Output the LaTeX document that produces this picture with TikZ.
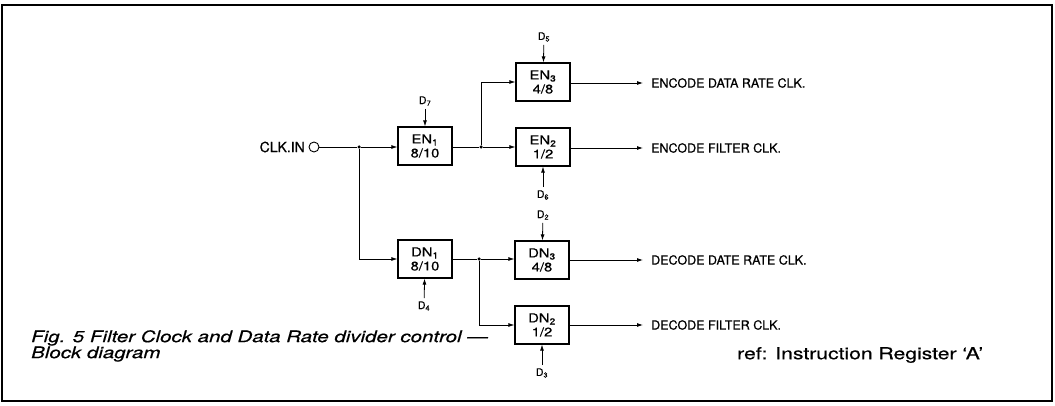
\documentclass[tikz,border=0pt]{standalone}
\usepackage{fontspec}
\setmainfont[FakeBold=0.6]{TeX Gyre Heros}
\newfontfamily\capfont[FakeStretch=1.28,FakeBold=0.5]{TeX Gyre Heros}
\newfontfamily\boxfont[FakeStretch=1.18,FakeBold=0.6]{TeX Gyre Heros}
\usetikzlibrary{arrows.meta}
\begin{document}
\begin{tikzpicture}[x=1pt,y=-1pt,
  box/.style={draw, line width=1.2pt, minimum width=54pt, minimum height=38pt, inner sep=0pt, align=center, font=\boxfont\fontsize{12.5}{14}\selectfont},
  wire/.style={line width=0.8pt},
  arr/.style={wire, -{Latex[length=6pt,width=4pt]}},
  dlab/.style={font=\fontsize{10.5}{12}\selectfont, inner sep=3pt},
  outlab/.style={anchor=west, inner xsep=8pt, inner ysep=0pt, font=\fontsize{12.5}{14}\selectfont},
  jdot/.style={circle, fill, inner sep=0pt, minimum size=3.5pt}
]
\useasboundingbox (0,0) rectangle (1055,406);
\draw[line width=2pt] (2,5) rectangle (1052,401);

% input
\node[anchor=east, inner sep=0pt, font=\fontsize{14}{16}\selectfont] (clk) at (305,147) {CLK.IN};
\node[draw, circle, minimum size=10pt, inner sep=0pt, line width=0.9pt] (inc) at (314,147) {};
\node[jdot] (j1) at (359,147) {};

% first stage
\node[box] (en1) at (425,146) {EN\textsubscript{1}\\8/10};
\node[box] (dn1) at (425,259) {DN\textsubscript{1}\\8/10};
\node[dlab] (d7) at (425,101) {D\textsubscript{7}};
\node[dlab] (d4) at (424,306) {D\textsubscript{4}};

% second stage encode
\node[jdot] (j2) at (481,147) {};
\node[box] (en3) at (543,82) {EN\textsubscript{3}\\4/8};
\node[box] (en2) at (543,147) {EN\textsubscript{2}\\1/2};
\node[dlab] (d5) at (544,37) {D\textsubscript{5}};
\node[dlab] (d6) at (543,195) {D\textsubscript{6}};

% second stage decode
\node[jdot] (j3) at (479,259) {};
\node[box] (dn3) at (542,260) {DN\textsubscript{3}\\4/8};
\node[box] (dn2) at (542,325) {DN\textsubscript{2}\\1/2};
\node[dlab] (d2) at (543,215) {D\textsubscript{2}};
\node[dlab] (d3) at (542,373) {D\textsubscript{3}};

% outputs
\node[outlab] (o1) at (643,83) {ENCODE DATA RATE CLK.};
\node[outlab] (o2) at (643,148) {ENCODE FILTER CLK.};
\node[outlab] (o3) at (643,260) {DECODE DATE RATE CLK.};
\node[outlab] (o4) at (643,325) {DECODE FILTER CLK.};

% connections
\draw[wire] (inc) -- (j1);
\draw[arr] (j1) -- (j1 -| en1.west);
\draw[arr] (j1) |- (dn1.west);
\draw[arr] (d7) -- (en1);
\draw[arr] (d4) -- (dn1);

\draw[wire] (en1.east |- j2) -- (j2);
\draw[arr] (j2) -- (j2 -| en2.west);
\draw[arr] (j2) |- (en3.west);
\draw[arr] (d5) -- (en3);
\draw[arr] (d6) -- (en2);

\draw[wire] (dn1.east |- j3) -- (j3);
\draw[arr] (j3) -- (j3 -| dn3.west);
\draw[arr] (j3) |- (dn2.west);
\draw[arr] (d2) -- (dn3);
\draw[arr] (d3) -- (dn2);

\draw[arr] (en3.east |- o1) -- (o1.west);
\draw[arr] (en2.east |- o2) -- (o2.west);
\draw[arr] (dn3.east |- o3) -- (o3.west);
\draw[arr] (dn2.east |- o4) -- (o4.west);

% captions
\node[anchor=north west, align=left, inner sep=0pt, font=\capfont\itshape\fontsize{16}{16}\selectfont] (cap) at (31,330) {Fig. 5 Filter Clock and Data Rate divider control —\\Block diagram};
\node[anchor=west, inner sep=0pt, font=\capfont\fontsize{16.5}{18}\selectfont] (ref) at (737,355) {ref: Instruction Register ‘A’};
\end{tikzpicture}
\end{document}
